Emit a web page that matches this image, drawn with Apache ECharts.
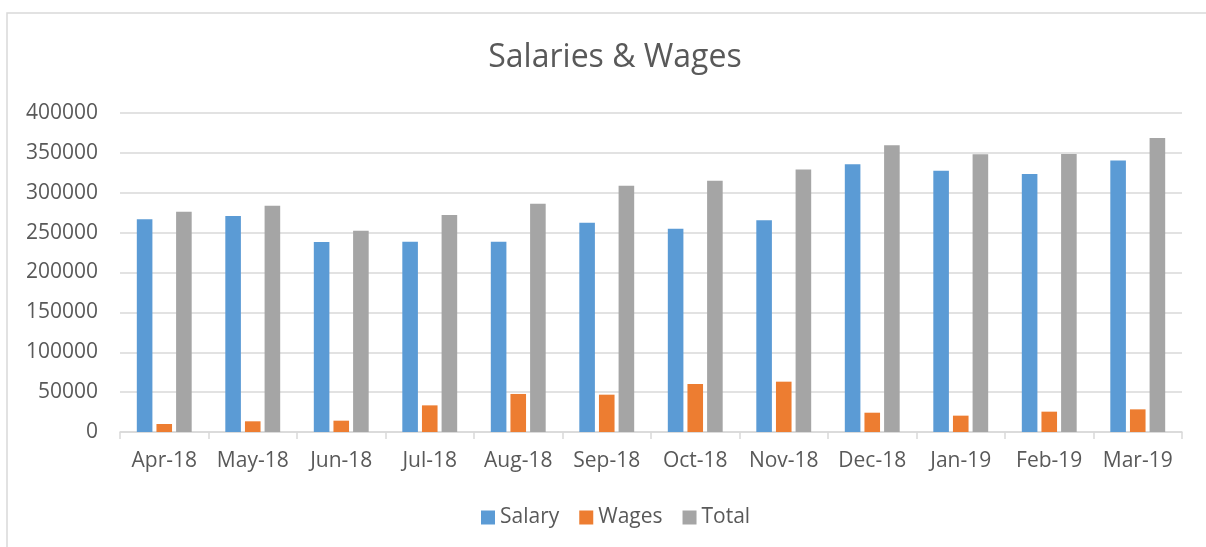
<!DOCTYPE html>
<html>
<head>
<meta charset="utf-8">
<script src="https://cdn.jsdelivr.net/npm/echarts@6/dist/echarts.min.js"></script>
<style>
  html, body { margin: 0; padding: 0; background: #fff; }
  #main { width: 1206px; height: 547px; }
</style>
</head>
<body>
<div id="main"></div>
<script>
var months = ["Apr-18", "May-18", "Jun-18", "Jul-18", "Aug-18", "Sep-18",
  "Oct-18", "Nov-18", "Dec-18", "Jan-19", "Feb-19", "Mar-19"];
var salary = [266700, 270900, 238300, 238700, 238700, 262500,
  255000, 265400, 335700, 327700, 323500, 340300];
var wages = [10000, 13400, 14200, 33400, 47700, 46800,
  60200, 63100, 24200, 20500, 25500, 28400];
var total = [276300, 283800, 252500, 272100, 286300, 308900,
  315200, 329000, 359500, 348200, 348600, 368700];

var textColor = "#595959";
var lineColor = "#d9d9d9";
var font = "'Open Sans', sans-serif";

var chart = echarts.init(document.getElementById("main"));

var option = {
  animation: false,
  backgroundColor: "#fff",
  textStyle: { fontFamily: font, color: textColor },
  graphic: [
    {
      // chart frame, only the top and left edges fall inside the picture
      type: "rect",
      shape: { x: 7, y: 13, width: 1400, height: 800 },
      style: { fill: null, stroke: lineColor, lineWidth: 1.5 },
      silent: true,
    },
  ],
  title: {
    text: "Salaries & Wages",
    left: 610,
    textAlign: "center",
    top: 37,
    textStyle: { fontFamily: font, fontSize: 32, fontWeight: "normal", color: textColor },
  },
  legend: {
    bottom: 14,
    left: 476,
    itemWidth: 14,
    itemHeight: 14,
    itemGap: 20,
    icon: "rect",
    textStyle: { fontFamily: font, fontSize: 21, color: textColor },
    data: ["Salary", "Wages", "Total"],
  },
  grid: {
    left: 120,
    right: 24,
    top: 113,
    bottom: 115,
    containLabel: false,
  },
  xAxis: {
    type: "category",
    data: months,
    axisLine: { lineStyle: { color: lineColor, width: 1.5 } },
    axisTick: { show: true, length: 7, lineStyle: { color: lineColor, width: 1.5 } },
    axisLabel: { color: textColor, fontSize: 21, fontFamily: font, margin: 19, interval: 0 },
  },
  yAxis: {
    type: "value",
    min: 0,
    max: 400000,
    interval: 50000,
    axisLine: { show: false },
    axisTick: { show: false },
    axisLabel: {
      color: textColor,
      fontSize: 21,
      fontFamily: font,
      margin: 22,
      formatter: function (value) {
        return String(value);
      },
    },
    splitLine: { lineStyle: { color: lineColor, width: 1.5 } },
  },
  series: [
    {
      name: "Salary",
      type: "bar",
      data: salary,
      barGap: "26%",
      barCategoryGap: "38%",
      itemStyle: { color: "#5b9bd5" },
    },
    {
      name: "Wages",
      type: "bar",
      data: wages,
      itemStyle: { color: "#ed7d31" },
    },
    {
      name: "Total",
      type: "bar",
      data: total,
      itemStyle: { color: "#a5a5a5" },
    },
  ],
};

chart.setOption(option);
</script>
</body>
</html>
